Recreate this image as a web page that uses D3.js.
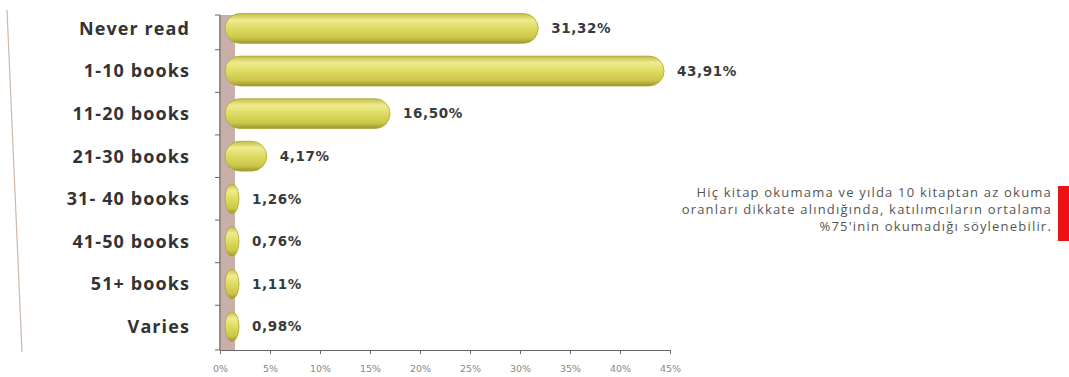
<!DOCTYPE html>
<html>
<head>
<meta charset="utf-8">
<script src="https://cdn.jsdelivr.net/npm/d3@7"></script>
<style>
  body { margin: 0; background: #fff; }
  svg { display: block; }
</style>
</head>
<body>
<div class="chart"></div>
<script>
let categories = ['Never read', '1-10 books', '11-20 books', '21-30 books', '31- 40 books', '41-50 books', '51+ books', 'Varies'];
let values = [31.32, 43.91, 16.50, 4.17, 1.26, 0.76, 1.11, 0.98];
let valueLabels = ['31,32%', '43,91%', '16,50%', '4,17%', '1,26%', '0,76%', '1,11%', '0,98%'];
let xTicks = [0, 5, 10, 15, 20, 25, 30, 35, 40, 45];
let note = [
  'Hiç kitap okumama ve yılda 10 kitaptan az okuma',
  'oranları dikkate alındığında, katılımcıların ortalama',
  '%75\'inin okumadığı söylenebilir.'
];

let width = 1069;
let height = 377;

let svg = d3.select('.chart')
  .append('svg')
    .attr('width', width)
    .attr('height', height);

let defs = svg.append('defs');
let grad = defs.append('linearGradient')
  .attr('id', 'barGrad')
  .attr('x1', 0).attr('y1', 0).attr('x2', 0).attr('y2', 1);
grad.append('stop').attr('offset', '0%').attr('stop-color', '#c2bd45');
grad.append('stop').attr('offset', '22%').attr('stop-color', '#efec90');
grad.append('stop').attr('offset', '50%').attr('stop-color', '#dedb62');
grad.append('stop').attr('offset', '82%').attr('stop-color', '#cbc647');
grad.append('stop').attr('offset', '100%').attr('stop-color', '#9a952c');

// faint scanned page edge on the left
svg.append('line')
  .attr('x1', 7).attr('y1', 10)
  .attr('x2', 22).attr('y2', 352)
  .style('stroke', '#cdb8ab')
  .style('stroke-width', 1.2);

let xScale = d3.scaleLinear()
  .domain([0, 45])
  .range([220, 670]);

let yScale = d3.scaleBand()
  .domain(categories)
  .range([5, 350])
  .paddingInner(0.3)
  .paddingOuter(0.2);

// 3D side wall
svg.append('rect')
  .attr('x', xScale(0) - 1)
  .attr('y', 15)
  .attr('width', 16)
  .attr('height', 350 - 15)
  .style('fill', '#c8afaa');

// y axis ticks
let yLine = svg.append('g');
yLine.append('line')
  .attr('x1', xScale(0)).attr('x2', xScale(0))
  .attr('y1', 15).attr('y2', 350)
  .style('stroke', '#666');
let yTickPos = [15].concat(categories.slice(1).map(c => yScale(c) - yScale.step() * yScale.paddingInner() / 2), [350]);
yLine.selectAll('.yt')
  .data(yTickPos)
  .enter().append('line')
    .attr('x1', xScale(0) - 5).attr('x2', xScale(0))
    .attr('y1', d => d).attr('y2', d => d)
    .style('stroke', '#666');

// x axis
let xAxis = d3.axisBottom(xScale)
  .tickValues(xTicks)
  .tickFormat(d => d + '%')
  .tickSizeInner(4)
  .tickSizeOuter(0)
  .tickPadding(11);
let gx = svg.append('g')
  .attr('transform', 'translate(0, 350)')
  .call(xAxis);
gx.select('.domain').style('stroke', '#666');
gx.selectAll('.tick line').style('stroke', '#666');
gx.selectAll('.tick text')
  .style('font-family', 'DejaVu Sans, sans-serif')
  .style('font-size', '9.5px')
  .style('fill', '#888');

// bars
let barStart = xScale(0) + 5;
svg.selectAll('.bar')
  .data(values)
  .enter().append('rect')
    .attr('class', 'bar')
    .attr('x', barStart)
    .attr('y', (d, i) => yScale(categories[i]))
    .attr('width', d => Math.max(xScale(d) + 5 - barStart, 14))
    .attr('height', yScale.bandwidth())
    .attr('rx', yScale.bandwidth() / 2)
    .attr('ry', yScale.bandwidth() / 2)
    .style('fill', 'url(#barGrad)')
    .style('stroke', '#a9a43a')
    .style('stroke-width', 0.8);

// value labels
svg.selectAll('.val')
  .data(values)
  .enter().append('text')
    .attr('x', d => Math.max(xScale(d) + 5, barStart + 14) + 13)
    .attr('y', (d, i) => yScale(categories[i]) + yScale.bandwidth() / 2)
    .attr('dy', '0.35em')
    .style('font-family', 'DejaVu Sans, sans-serif')
    .style('font-weight', 'bold')
    .style('font-size', '13.5px')
    .style('letter-spacing', '0.6px')
    .style('fill', '#3a3a3a')
    .text((d, i) => valueLabels[i]);

// category labels
svg.selectAll('.cat')
  .data(categories)
  .enter().append('text')
    .attr('x', 190)
    .attr('y', d => yScale(d) + yScale.bandwidth() / 2)
    .attr('dy', '0.35em')
    .attr('text-anchor', 'end')
    .style('font-family', 'Open Sans, sans-serif')
    .style('font-weight', 'bold')
    .style('font-size', '18px')
    .style('letter-spacing', '1.1px')
    .style('fill', '#333')
    .text(d => d);

// note
svg.selectAll('.note')
  .data(note)
  .enter().append('text')
    .attr('x', 1052)
    .attr('y', (d, i) => 197 + i * 17)
    .attr('text-anchor', 'end')
    .style('font-family', 'Open Sans, sans-serif')
    .style('font-size', '13px')
    .style('letter-spacing', '1.2px')
    .style('fill', '#555')
    .text(d => d);

svg.append('rect')
  .attr('x', 1058)
  .attr('y', 186)
  .attr('width', 11)
  .attr('height', 55)
  .style('fill', '#ee1111');
</script>
</body>
</html>
